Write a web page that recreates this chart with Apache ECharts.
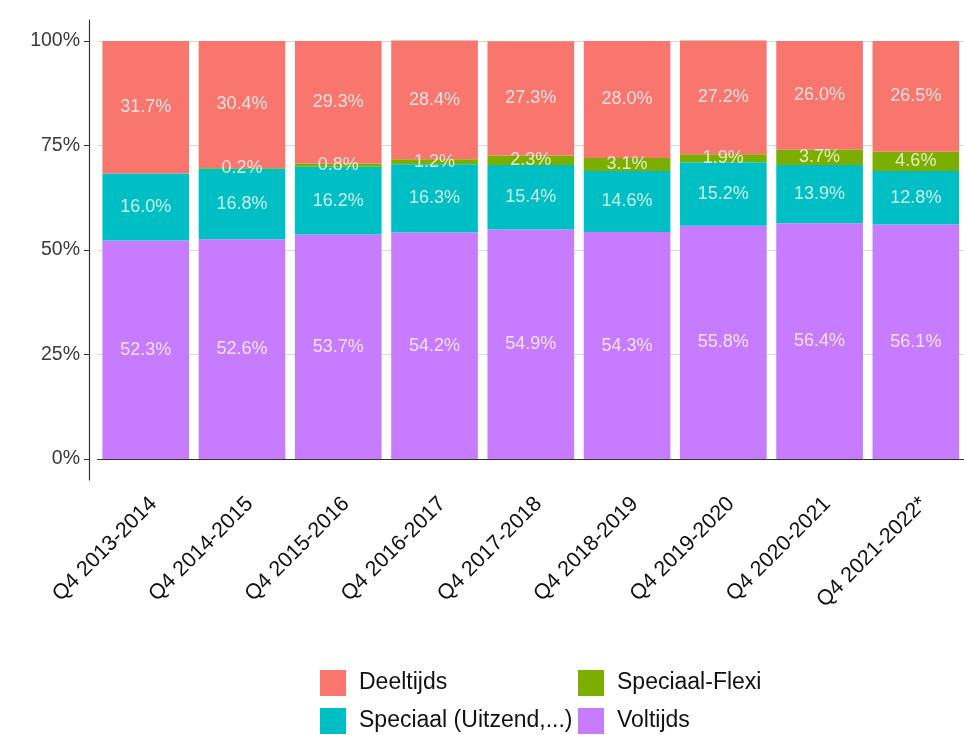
<!DOCTYPE html>
<html>
<head>
<meta charset="utf-8">
<script src="https://cdn.jsdelivr.net/npm/echarts@6/dist/echarts.min.js"></script>
<style>html,body{margin:0;padding:0;background:#fff;}#c{width:964px;height:735px;}</style>
</head>
<body>
<div id="c"></div>
<script>
const categories = ['Q4 2013-2014','Q4 2014-2015','Q4 2015-2016','Q4 2016-2017','Q4 2017-2018','Q4 2018-2019','Q4 2019-2020','Q4 2020-2021','Q4 2021-2022*'];
const voltijds = [52.3, 52.6, 53.7, 54.2, 54.9, 54.3, 55.8, 56.4, 56.1];
const speciaal = [16.0, 16.8, 16.2, 16.3, 15.4, 14.6, 15.2, 13.9, 12.8];
const flexi = [null, 0.2, 0.8, 1.2, 2.3, 3.1, 1.9, 3.7, 4.6];
const deeltijds = [31.7, 30.4, 29.3, 28.4, 27.3, 28.0, 27.2, 26.0, 26.5];
const yTicks = [0, 25, 50, 75, 100];

const font = 'Liberation Sans, Arial, sans-serif';
const labelCfg = {
  show: true, position: 'inside', color: 'rgba(255,255,255,0.78)', fontSize: 18, fontFamily: font,
  formatter: p => (p.value == null ? '' : p.value.toFixed(1) + '%')
};
function mk(name, data, color) {
  return { name, type: 'bar', stack: 'a', data, barCategoryGap: '10%',
    itemStyle: { color }, label: labelCfg, emphasis: { disabled: true } };
}
const legendText = { fontSize: 23, color: '#111', fontFamily: font, padding: [0, 0, 0, 8] };
const chart = echarts.init(document.getElementById('c'));
chart.setOption({
  animation: false,
  grid: { left: 97.6, top: 20, width: 871, height: 460, containLabel: false },
  xAxis: {
    type: 'category', data: categories,
    axisLine: { lineStyle: { color: '#333', width: 1.2 } },
    axisTick: { alignWithLabel: true, length: 5, lineStyle: { color: '#333' } },
    axisLabel: { rotate: 45, color: '#111', fontSize: 21.5, fontFamily: font, margin: 3,
      verticalAlign: 'top', padding: [7, 7, 0, 0], interval: 0 }
  },
  yAxis: {
    type: 'value', min: -5, max: 105, offset: 8.6,
    axisLine: { show: true, lineStyle: { color: '#333', width: 1.2 } },
    axisTick: { show: true, length: 5, customValues: yTicks, lineStyle: { color: '#333' } },
    axisLabel: { customValues: yTicks, formatter: v => v + '%', color: '#3a3a3a', fontSize: 19.5, fontFamily: font, margin: 9 },
    splitLine: { show: true, lineStyle: { color: '#d9d9d9', width: 1 } }
  },
  legend: [
    { orient: 'vertical', left: 320, top: 670, padding: 0, itemWidth: 26, itemHeight: 26, itemGap: 12,
      textStyle: legendText,
      data: [{ name: 'Deeltijds', icon: 'rect' }, { name: 'Speciaal (Uitzend,...)', icon: 'rect' }] },
    { orient: 'vertical', left: 578, top: 670, padding: 0, itemWidth: 26, itemHeight: 26, itemGap: 12,
      textStyle: legendText,
      data: [{ name: 'Speciaal-Flexi', icon: 'rect' }, { name: 'Voltijds', icon: 'rect' }] }
  ],
  series: [
    mk('Voltijds', voltijds, '#C77CFF'),
    mk('Speciaal (Uitzend,...)', speciaal, '#00BFC4'),
    mk('Speciaal-Flexi', flexi, '#7CAE00'),
    mk('Deeltijds', deeltijds, '#F8766D')
  ]
});
</script>
</body>
</html>
